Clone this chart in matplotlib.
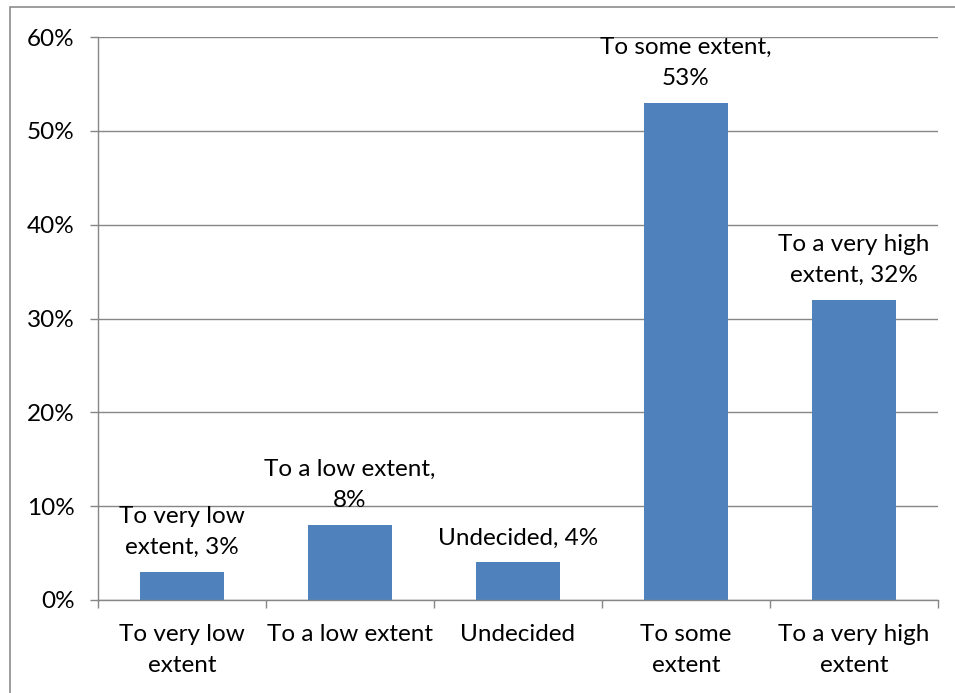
import matplotlib
matplotlib.use("Agg")
import matplotlib.pyplot as plt
from matplotlib.patches import Rectangle
import numpy as np

categories = ["To very low\nextent", "To a low extent", "Undecided", "To some\nextent", "To a very high\nextent"]
values = [3, 8, 4, 53, 32]
bar_labels = ["To very low\nextent, 3%", "To a low extent,\n8%", "Undecided, 4%", "To some extent,\n53%", "To a very high\nextent, 32%"]
yticks = [0, 10, 20, 30, 40, 50, 60]
ytick_labels = ["0%", "10%", "20%", "30%", "40%", "50%", "60%"]

plt.rcParams['font.family'] = ['Lato', 'DejaVu Sans']
FS = 17.5
W, H = 955, 693
fig = plt.figure(figsize=(W/100, H/100), dpi=100)
fig.patch.set_facecolor("white")

# outer chart border (left and top visible)
fig.add_artist(Rectangle((10/W, -0.05), 1.2, (H-7)/H + 0.05, transform=fig.transFigure,
                         fill=False, edgecolor="#8c8c8c", linewidth=1.2))

ax = fig.add_axes([98/W, (H-600)/H, (938-98)/W, (600-37)/H])
x = np.arange(len(categories))
ax.bar(x, values, width=0.5, color="#4F81BD", zorder=2)
ax.set_xlim(-0.5, len(categories) - 0.5)
ax.set_ylim(0, 60)
ax.set_yticks(yticks)
ax.set_yticklabels(ytick_labels, fontsize=FS)
ax.yaxis.grid(True, color="#868686", linewidth=1.0, zorder=1)
ax.set_axisbelow(True)

ax.set_xticks(np.arange(len(categories) + 1) - 0.5)
ax.set_xticklabels([])
ax.set_xticks(x, minor=True)
ax.set_xticklabels(categories, minor=True, fontsize=FS, linespacing=1.6)
ax.tick_params(axis='x', which='minor', length=0, pad=17)
ax.tick_params(axis='x', which='major', length=6, color="#868686", width=1)
ax.tick_params(axis='y', length=6, color="#868686", width=1, pad=11)

for s in ["top", "right"]:
    ax.spines[s].set_visible(False)
for s in ["left", "bottom"]:
    ax.spines[s].set_color("#868686")
    ax.spines[s].set_linewidth(1.0)

for xi, v, lab in zip(x, values, bar_labels):
    ax.annotate(lab, (xi, v), xytext=(0, 10), textcoords="offset points",
                ha="center", va="bottom", fontsize=FS, linespacing=1.6, zorder=3)

fig.savefig("out.png", dpi=100, facecolor="white")
